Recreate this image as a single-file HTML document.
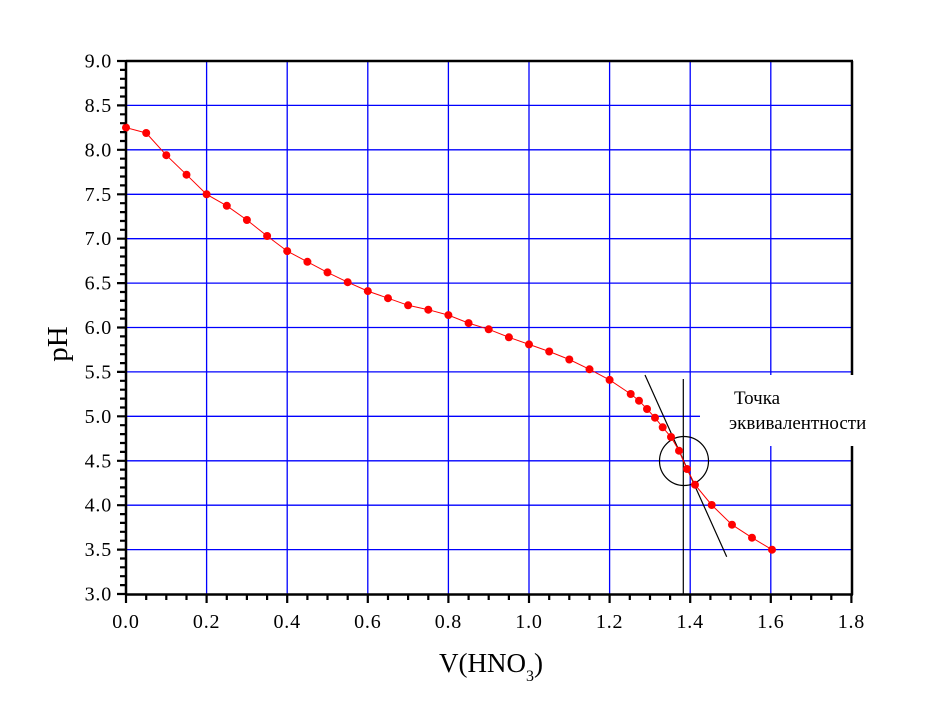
<!DOCTYPE html>
<html><head><meta charset="utf-8"><style>
html,body{margin:0;padding:0;background:#fff;}
svg{display:block;}
text{font-family:"Liberation Serif","DejaVu Serif",serif;fill:#000;}
</style></head><body>
<svg width="945" height="701" viewBox="0 0 945 701" xmlns="http://www.w3.org/2000/svg">
<rect width="945" height="701" fill="#fff"/>
<g stroke="#0000ff" stroke-width="1.3">
<line x1="206.6" y1="61" x2="206.6" y2="594"/>
<line x1="287.2" y1="61" x2="287.2" y2="594"/>
<line x1="367.8" y1="61" x2="367.8" y2="594"/>
<line x1="448.4" y1="61" x2="448.4" y2="594"/>
<line x1="529" y1="61" x2="529" y2="594"/>
<line x1="609.6" y1="61" x2="609.6" y2="594"/>
<line x1="690.2" y1="61" x2="690.2" y2="594"/>
<line x1="770.8" y1="61" x2="770.8" y2="594"/>
<line x1="126" y1="105.4" x2="852" y2="105.4"/>
<line x1="126" y1="149.8" x2="852" y2="149.8"/>
<line x1="126" y1="194.3" x2="852" y2="194.3"/>
<line x1="126" y1="238.7" x2="852" y2="238.7"/>
<line x1="126" y1="283.1" x2="852" y2="283.1"/>
<line x1="126" y1="327.5" x2="852" y2="327.5"/>
<line x1="126" y1="371.9" x2="852" y2="371.9"/>
<line x1="126" y1="416.3" x2="852" y2="416.3"/>
<line x1="126" y1="460.8" x2="852" y2="460.8"/>
<line x1="126" y1="505.2" x2="852" y2="505.2"/>
<line x1="126" y1="549.6" x2="852" y2="549.6"/>
</g>
<rect x="700" y="375" width="160" height="71" fill="#fff"/>
<text x="734" y="404" font-size="19">Точка</text>
<text x="729" y="429" font-size="19">эквивалентности</text>
<g stroke="#000" fill="none">
<line x1="126" y1="61" x2="853" y2="61" stroke-width="2.5"/>
<line x1="852" y1="61" x2="852" y2="375" stroke-width="2.5"/>
<line x1="852" y1="446" x2="852" y2="595" stroke-width="2.5"/>
<line x1="126" y1="60" x2="126" y2="595" stroke-width="2.5"/>
<line x1="125" y1="594.5" x2="853" y2="594.5" stroke-width="2.5"/>
</g>
<g stroke="#000" fill="none" stroke-width="1.2">
<line x1="645" y1="375" x2="726.7" y2="556.7"/>
<line x1="683.3" y1="379" x2="683.3" y2="594"/>
<circle cx="684" cy="461" r="24.5"/>
</g>
<polyline fill="none" stroke="#ff0000" stroke-width="1" points="126,127.6 146.2,133 166.3,155.2 186.5,174.7 206.6,194.3 226.8,205.8 246.9,220 267.1,236 287.2,251.1 307.4,261.8 327.5,272.4 347.7,282.2 367.8,291.1 388,298.2 408.1,305.3 428.3,309.7 448.4,315.1 468.6,323.1 488.7,329.3 508.9,337.3 529,344.4 549.2,351.5 569.3,359.5 589.5,369.3 609.6,379.9 630.7,394 639,400.7 647,409 655,417.7 662.7,427.3 671,437 679,450.7 687,469 695,484.7 711.7,505 732,524.7 752,537.7 772,549.7"/>
<g fill="#ff0000">
<circle cx="126" cy="127.6" r="4"/><circle cx="146.2" cy="133" r="4"/><circle cx="166.3" cy="155.2" r="4"/><circle cx="186.5" cy="174.7" r="4"/><circle cx="206.6" cy="194.3" r="4"/><circle cx="226.8" cy="205.8" r="4"/><circle cx="246.9" cy="220" r="4"/><circle cx="267.1" cy="236" r="4"/><circle cx="287.2" cy="251.1" r="4"/><circle cx="307.4" cy="261.8" r="4"/><circle cx="327.5" cy="272.4" r="4"/><circle cx="347.7" cy="282.2" r="4"/><circle cx="367.8" cy="291.1" r="4"/><circle cx="388" cy="298.2" r="4"/><circle cx="408.1" cy="305.3" r="4"/><circle cx="428.3" cy="309.7" r="4"/><circle cx="448.4" cy="315.1" r="4"/><circle cx="468.6" cy="323.1" r="4"/><circle cx="488.7" cy="329.3" r="4"/><circle cx="508.9" cy="337.3" r="4"/><circle cx="529" cy="344.4" r="4"/><circle cx="549.2" cy="351.5" r="4"/><circle cx="569.3" cy="359.5" r="4"/><circle cx="589.5" cy="369.3" r="4"/><circle cx="609.6" cy="379.9" r="4"/><circle cx="630.7" cy="394" r="4"/><circle cx="639" cy="400.7" r="4"/><circle cx="647" cy="409" r="4"/><circle cx="655" cy="417.7" r="4"/><circle cx="662.7" cy="427.3" r="4"/><circle cx="671" cy="437" r="4"/><circle cx="679" cy="450.7" r="4"/><circle cx="687" cy="469" r="4"/><circle cx="695" cy="484.7" r="4"/><circle cx="711.7" cy="505" r="4"/><circle cx="732" cy="524.7" r="4"/><circle cx="752" cy="537.7" r="4"/><circle cx="772" cy="549.7" r="4"/>
</g>
<g stroke="#000" stroke-width="2.2">
<path d="M126 594v9M206.6 594v9M287.2 594v9M367.8 594v9M448.4 594v9M529 594v9M609.6 594v9M690.2 594v9M770.8 594v9M851.4 594v9
M146.2 594v6M166.3 594v6M186.5 594v6M226.8 594v6M246.9 594v6M267.1 594v6M307.4 594v6M327.5 594v6M347.7 594v6M388 594v6M408.1 594v6M428.3 594v6M468.6 594v6M488.7 594v6M508.9 594v6M549.2 594v6M569.3 594v6M589.5 594v6M629.8 594v6M650 594v6M670.1 594v6M710.4 594v6M730.6 594v6M750.7 594v6M791 594v6M811.2 594v6M831.3 594v6"/>
<path d="M126 61h-9M126 105.4h-9M126 149.8h-9M126 194.3h-9M126 238.7h-9M126 283.1h-9M126 327.5h-9M126 371.9h-9M126 416.3h-9M126 460.8h-9M126 505.2h-9M126 549.6h-9M126 594h-9
M126 69.9h-6M126 78.8h-6M126 87.7h-6M126 96.5h-6M126 114.3h-6M126 123.2h-6M126 132.1h-6M126 141h-6M126 158.7h-6M126 167.6h-6M126 176.5h-6M126 185.4h-6M126 203.2h-6M126 212.1h-6M126 221h-6M126 229.8h-6M126 247.6h-6M126 256.5h-6M126 265.4h-6M126 274.2h-6M126 292h-6M126 300.9h-6M126 309.8h-6M126 318.6h-6M126 336.4h-6M126 345.3h-6M126 354.2h-6M126 363.1h-6M126 380.8h-6M126 389.7h-6M126 398.6h-6M126 407.5h-6M126 425.2h-6M126 434.1h-6M126 443h-6M126 451.9h-6M126 469.6h-6M126 478.5h-6M126 487.4h-6M126 496.3h-6M126 514.1h-6M126 522.9h-6M126 531.8h-6M126 540.7h-6M126 558.5h-6M126 567.3h-6M126 576.2h-6M126 585.1h-6"/>
</g>
<g font-size="20" text-anchor="end" letter-spacing="0.8">
<text x="112" y="67.5">9.0</text><text x="112" y="111.9">8.5</text><text x="112" y="156.3">8.0</text><text x="112" y="200.8">7.5</text><text x="112" y="245.2">7.0</text><text x="112" y="289.6">6.5</text><text x="112" y="334">6.0</text><text x="112" y="378.4">5.5</text><text x="112" y="422.8">5.0</text><text x="112" y="467.3">4.5</text><text x="112" y="511.7">4.0</text><text x="112" y="556.1">3.5</text><text x="112" y="600.5">3.0</text>
</g>
<g font-size="20" text-anchor="middle" letter-spacing="0.8">
<text x="126" y="628">0.0</text><text x="206.6" y="628">0.2</text><text x="287.2" y="628">0.4</text><text x="367.8" y="628">0.6</text><text x="448.4" y="628">0.8</text><text x="529" y="628">1.0</text><text x="609.6" y="628">1.2</text><text x="690.2" y="628">1.4</text><text x="770.8" y="628">1.6</text><text x="851.4" y="628">1.8</text>
</g>
<text x="439" y="672" font-size="27">V(HNO<tspan font-size="16" dy="9">3</tspan><tspan font-size="27" dy="-9">)</tspan></text>
<text transform="translate(67,344) rotate(-90)" font-size="29" text-anchor="middle">pH</text>
</svg>
</body></html>
